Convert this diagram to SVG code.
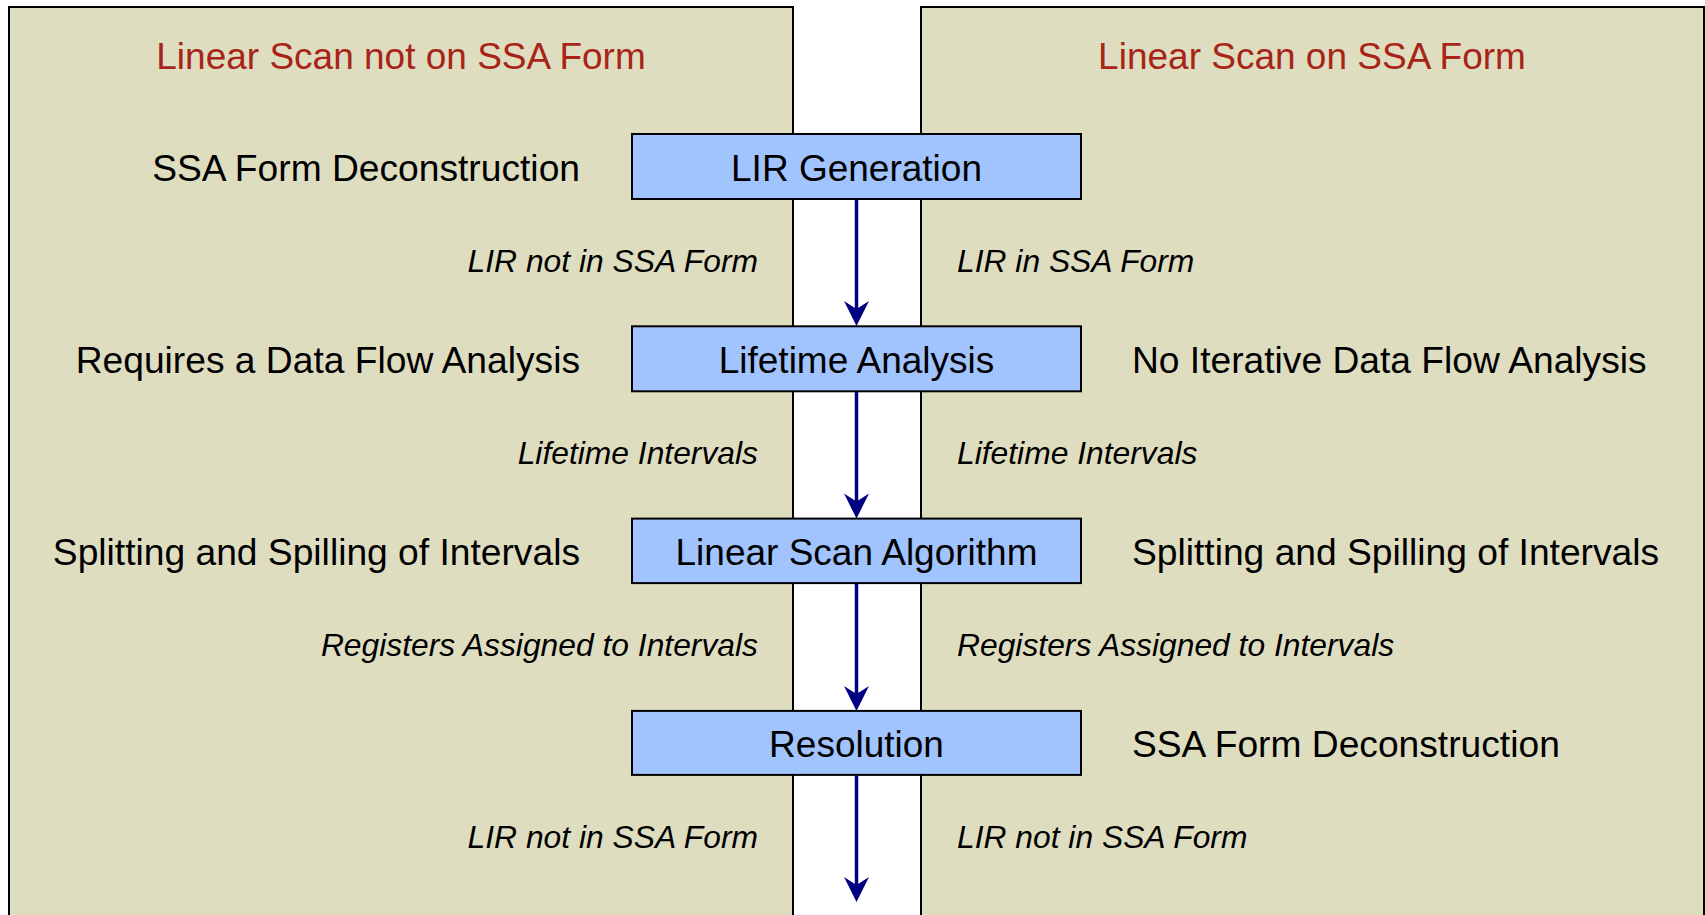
<svg xmlns="http://www.w3.org/2000/svg" width="1705" height="915" viewBox="0 0 1705 915">
  <style>
    .panel { fill: #dfddc0; stroke: #000; stroke-width: 2; }
    .title { font-family: "Liberation Sans", Arial, sans-serif; font-size: 37px; fill: #a82418; text-anchor: middle; }
    .step { fill: #a1c4ff; stroke: #000; stroke-width: 2; }
    .stepText { font-family: "Liberation Sans", Arial, sans-serif; font-size: 37px; fill: #000; text-anchor: middle; }
    .side { font-family: "Liberation Sans", Arial, sans-serif; font-size: 37.2px; fill: #000; }
    .left { text-anchor: end; }
    .flow { font-family: "Liberation Sans", Arial, sans-serif; font-size: 31.8px; font-style: italic; fill: #000; }
    .edge { stroke: #000080; stroke-width: 3.5; fill: none; marker-end: url(#head); }
  </style>
  <defs>
    <marker id="head" markerUnits="userSpaceOnUse" viewBox="-14 -13 27 26" refX="0" refY="0" markerWidth="27" markerHeight="26" orient="auto">
      <path d="M12,0 L-13,-12.5 L-5,0 L-13,12.5 Z" fill="#000080"/>
    </marker>
  </defs>

  <rect width="1705" height="915" fill="#fff"/>

  <!-- two comparison columns -->
  <g id="panel-non-ssa">
    <rect class="panel" x="9" y="7" width="784" height="920"/>
    <text class="title" x="401" y="69">Linear Scan not on SSA Form</text>
  </g>
  <g id="panel-ssa">
    <rect class="panel" x="921" y="7" width="783" height="920"/>
    <text class="title" x="1312" y="69">Linear Scan on SSA Form</text>
  </g>

  <!-- edge labels (data passed between phases) -->
  <g id="flow-labels">
    <text class="flow left" x="758" y="271.5">LIR not in SSA Form</text>
    <text class="flow" x="957" y="271.5">LIR in SSA Form</text>
    <text class="flow left" x="758" y="463.5">Lifetime Intervals</text>
    <text class="flow" x="957" y="463.5">Lifetime Intervals</text>
    <text class="flow left" x="758" y="655.5">Registers Assigned to Intervals</text>
    <text class="flow" x="957" y="655.5">Registers Assigned to Intervals</text>
    <text class="flow left" x="758" y="848">LIR not in SSA Form</text>
    <text class="flow" x="957" y="848">LIR not in SSA Form</text>
  </g>

  <!-- connectors -->
  <g id="connectors">
    <line class="edge" x1="856.5" y1="199" x2="856.5" y2="314"/>
    <line class="edge" x1="856.5" y1="391" x2="856.5" y2="506.5"/>
    <line class="edge" x1="856.5" y1="583.5" x2="856.5" y2="699"/>
    <line class="edge" x1="856.5" y1="776" x2="856.5" y2="890"/>
  </g>

  <!-- phases -->
  <g id="lir-generation">
    <rect class="step" x="632" y="134" width="449" height="65"/>
    <text class="stepText" x="856.5" y="181">LIR Generation</text>
    <text class="side left" x="580" y="181">SSA Form Deconstruction</text>
  </g>
  <g id="lifetime-analysis">
    <rect class="step" x="632" y="326.3" width="449" height="65"/>
    <text class="stepText" x="856.5" y="373">Lifetime Analysis</text>
    <text class="side left" x="580" y="373">Requires a Data Flow Analysis</text>
    <text class="side" x="1132" y="373">No Iterative Data Flow Analysis</text>
  </g>
  <g id="linear-scan">
    <rect class="step" x="632" y="518.6" width="449" height="64.5"/>
    <text class="stepText" x="856.5" y="565">Linear Scan Algorithm</text>
    <text class="side left" x="580" y="565">Splitting and Spilling of Intervals</text>
    <text class="side" x="1132" y="565">Splitting and Spilling of Intervals</text>
  </g>
  <g id="resolution">
    <rect class="step" x="632" y="710.9" width="449" height="64"/>
    <text class="stepText" x="856.5" y="757.2">Resolution</text>
    <text class="side" x="1132" y="757.2">SSA Form Deconstruction</text>
  </g>
</svg>
